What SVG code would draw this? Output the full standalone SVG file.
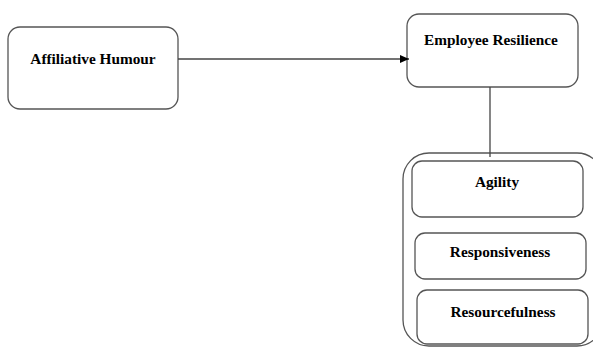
<svg xmlns="http://www.w3.org/2000/svg" width="593" height="347" viewBox="0 0 593 347">
<defs>
<style>
.box{fill:#fff;stroke:#555;stroke-width:1.3}
.lbl{font-family:"Liberation Serif","Times New Roman",serif;font-weight:bold;font-size:15.3px;fill:#000;text-anchor:middle}
.con{stroke:#444;stroke-width:1.3;fill:none}
</style>
<marker id="arr" markerWidth="10" markerHeight="10" refX="9" refY="5" orient="auto" markerUnits="userSpaceOnUse">
<path d="M0,1 L9,5 L0,9 Z" fill="#000"/>
</marker>
</defs>
<rect width="593" height="347" fill="#fff"/>
<g id="dimensions">
<rect class="box" x="403" y="153" width="200" height="193" rx="26"/>
</g>
<g id="affiliative-humour">
<rect class="box" x="8" y="27" width="170" height="82" rx="12"/>
<text class="lbl" x="93" y="64">Affiliative Humour</text>
</g>
<g id="employee-resilience">
<rect class="box" x="407" y="14" width="171" height="73" rx="12"/>
<text class="lbl" x="491" y="45">Employee Resilience</text>
</g>
<g id="agility">
<rect class="box" x="412" y="161" width="171" height="56" rx="10"/>
<text class="lbl" x="497" y="187">Agility</text>
</g>
<g id="responsiveness">
<rect class="box" x="415" y="233" width="171" height="46" rx="10"/>
<text class="lbl" x="500" y="257">Responsiveness</text>
</g>
<g id="resourcefulness">
<rect class="box" x="417" y="290" width="171" height="54" rx="10"/>
<text class="lbl" x="503" y="317">Resourcefulness</text>
</g>
<g id="connectors">
<line class="con" x1="178" y1="59" x2="409" y2="59" marker-end="url(#arr)"/>
<line class="con" x1="490" y1="87" x2="490" y2="157"/>
</g>
</svg>
